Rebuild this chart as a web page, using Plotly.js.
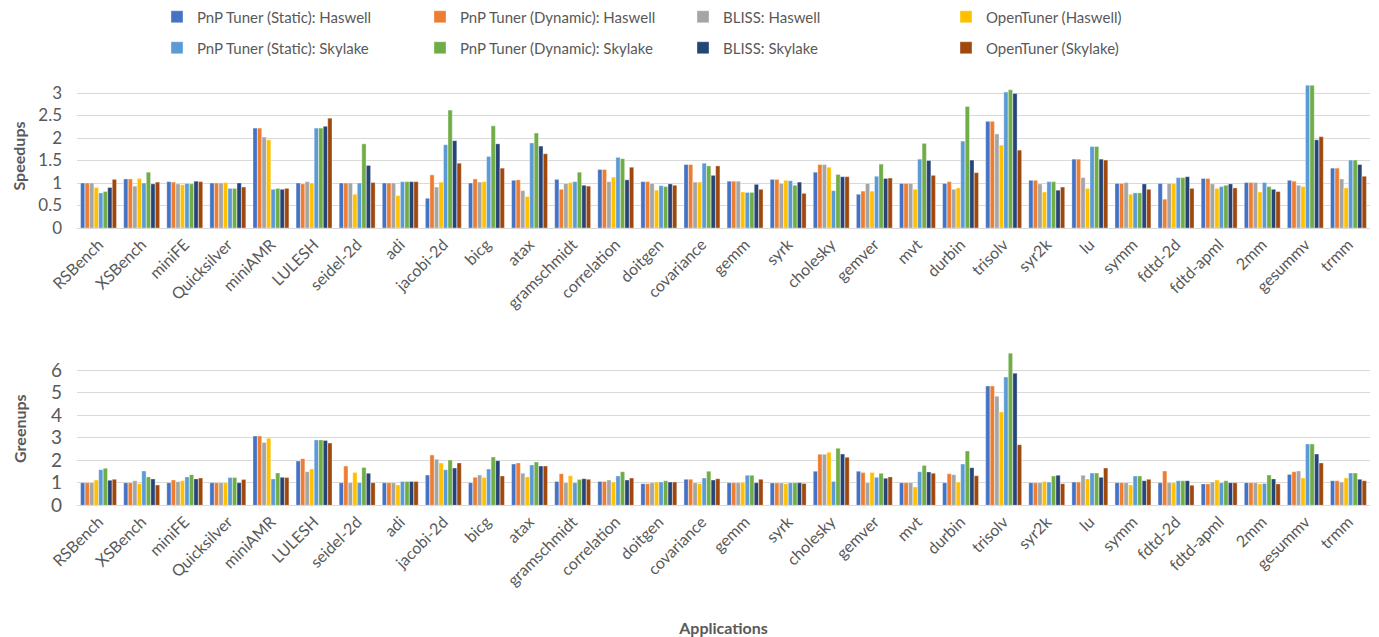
<!DOCTYPE html>
<html>
<head>
<meta charset="utf-8">
<script src="https://cdn.plot.ly/plotly-3.0.1.min.js"></script>
<style>html,body{margin:0;padding:0;background:#fff;}#chart{width:1379px;height:637px;}</style>
</head>
<body>
<div id="chart"></div>
<script>
const categories = ["RSBench","XSBench","miniFE","Quicksilver","miniAMR","LULESH","seidel-2d","adi","jacobi-2d","bicg","atax","gramschmidt","correlation","doitgen","covariance","gemm","syrk","cholesky","gemver","mvt","durbin","trisolv","syr2k","lu","symm","fdtd-2d","fdtd-apml","2mm","gesummv","trmm"];

const seriesNames = ["PnP Tuner (Static): Haswell","PnP Tuner (Dynamic): Haswell","BLISS: Haswell","OpenTuner (Haswell)","PnP Tuner (Static): Skylake","PnP Tuner (Dynamic): Skylake","BLISS: Skylake","OpenTuner (Skylake)"];
const seriesColors = ["#4472C4","#ED7D31","#A5A5A5","#FFC000","#5B9BD5","#70AD47","#264478","#9E480E"];

// Speedups
const speedStaticHaswell  = [1.0,1.09,1.03,1.0,2.22,1.0,1.0,1.0,0.66,1.0,1.06,1.08,1.30,1.03,1.41,1.04,1.08,1.24,0.75,0.99,0.99,2.37,1.06,1.53,0.99,0.99,1.10,1.01,1.06,1.33];
const speedDynamicHaswell = [1.0,1.09,1.02,1.0,2.22,0.98,1.0,1.0,1.18,1.09,1.07,0.86,1.30,1.03,1.41,1.04,1.08,1.41,0.82,0.99,1.03,2.37,1.06,1.53,0.99,0.64,1.10,1.01,1.04,1.33];
const speedBlissHaswell   = [1.0,0.93,0.98,1.0,2.02,1.03,1.0,1.0,0.91,1.02,0.83,0.99,1.03,0.99,1.02,1.04,0.99,1.41,0.99,0.99,0.86,2.09,0.98,1.12,1.01,0.99,0.98,1.01,0.95,1.09];
const speedOpenHaswell    = [0.90,1.10,0.96,1.01,1.96,1.0,0.75,0.72,1.02,1.03,0.70,1.01,1.13,0.84,1.02,0.80,1.06,1.35,0.82,0.86,0.89,1.84,0.80,0.88,0.75,0.99,0.88,0.80,0.92,0.89];
const speedStaticSkylake  = [0.78,1.0,0.99,0.88,0.86,2.22,1.0,1.03,1.85,1.59,1.89,1.03,1.57,0.94,1.44,0.79,1.05,0.83,1.15,1.53,1.93,3.02,1.03,1.81,0.78,1.12,0.92,1.01,3.17,1.51];
const speedDynamicSkylake = [0.81,1.24,0.98,0.88,0.88,2.22,1.87,1.03,2.62,2.27,2.11,1.24,1.54,0.92,1.38,0.79,0.95,1.19,1.42,1.88,2.70,3.07,1.03,1.81,0.78,1.12,0.95,0.92,3.17,1.51];
const speedBlissSkylake   = [0.90,0.98,1.04,1.0,0.86,2.26,1.39,1.03,1.94,1.87,1.82,0.95,1.07,0.98,1.17,0.97,1.02,1.14,1.10,1.50,1.51,2.99,0.84,1.53,0.98,1.14,0.98,0.86,1.96,1.41];
const speedOpenSkylake    = [1.08,1.02,1.03,0.91,0.88,2.44,1.01,1.03,1.44,1.33,1.65,0.93,1.35,0.95,1.38,0.86,0.77,1.14,1.11,1.17,1.23,1.73,0.91,1.51,0.86,0.88,0.89,0.81,2.03,1.15];

// Greenups
const greenStaticHaswell  = [1.0,1.0,1.0,1.0,3.07,1.96,1.0,1.0,1.34,1.0,1.83,1.06,1.06,0.96,1.15,1.0,0.99,1.51,1.51,1.0,1.0,5.29,1.0,1.03,1.0,1.0,0.95,1.0,1.37,1.09];
const greenDynamicHaswell = [1.0,1.0,1.12,1.0,3.07,2.07,1.74,1.0,2.23,1.24,1.88,1.40,1.06,0.96,1.15,1.0,0.99,2.26,1.45,1.0,1.40,5.29,1.0,1.03,1.0,1.52,0.95,1.0,1.49,1.09];
const greenBlissHaswell   = [1.0,1.09,1.05,1.0,2.79,1.49,1.0,1.0,2.04,1.34,1.42,1.0,1.12,1.0,1.0,1.0,0.99,2.26,1.0,1.0,1.36,4.84,1.0,1.33,1.0,1.0,1.03,1.0,1.52,1.03];
const greenOpenHaswell    = [1.12,0.96,1.09,1.0,2.97,1.61,1.46,0.90,1.88,1.23,1.26,1.31,1.03,1.03,0.96,1.02,0.96,2.35,1.46,0.81,1.03,4.14,1.06,1.17,0.90,1.0,1.12,0.95,1.21,1.21];
const greenStaticSkylake  = [1.58,1.52,1.26,1.23,1.17,2.90,1.0,1.06,1.58,1.61,1.79,1.0,1.30,1.03,1.21,1.33,1.0,1.06,1.24,1.49,1.83,5.69,1.03,1.43,1.30,1.09,1.0,0.97,2.72,1.43];
const greenDynamicSkylake = [1.64,1.26,1.36,1.23,1.43,2.90,1.68,1.06,2.01,2.14,1.92,1.14,1.49,1.09,1.51,1.33,1.0,2.53,1.42,1.77,2.41,6.75,1.30,1.43,1.30,1.09,1.09,1.34,2.72,1.43];
const greenBlissSkylake   = [1.11,1.17,1.17,1.0,1.24,2.87,1.42,1.06,1.65,1.98,1.74,1.18,1.12,1.03,1.12,1.0,1.0,2.27,1.20,1.48,1.67,5.86,1.33,1.24,1.09,1.09,1.0,1.17,2.27,1.15];
const greenOpenSkylake    = [1.15,0.90,1.21,1.14,1.23,2.76,1.0,1.06,1.88,1.30,1.74,1.15,1.21,1.03,1.18,1.15,0.97,2.13,1.26,1.42,1.31,2.69,0.96,1.65,1.15,0.89,1.0,0.95,1.88,1.09];

const speedSeries = [speedStaticHaswell,speedDynamicHaswell,speedBlissHaswell,speedOpenHaswell,speedStaticSkylake,speedDynamicSkylake,speedBlissSkylake,speedOpenSkylake];
const greenSeries = [greenStaticHaswell,greenDynamicHaswell,greenBlissHaswell,greenOpenHaswell,greenStaticSkylake,greenDynamicSkylake,greenBlissSkylake,greenOpenSkylake];

const FONT = "Lato, 'Open Sans', sans-serif";
const GREY = "#595959";
const traces = [];
speedSeries.forEach((vals, i) => {
  traces.push({
    type: "bar", x: categories, y: vals, name: seriesNames[i],
    marker: {color: seriesColors[i], line: {color: "rgba(255,255,255,0.6)", width: 0.6}},
    xaxis: "x", yaxis: "y", legend: i < 4 ? "legend" : "legend2"
  });
});
greenSeries.forEach((vals, i) => {
  traces.push({
    type: "bar", x: categories, y: vals, name: seriesNames[i], showlegend: false,
    marker: {color: seriesColors[i], line: {color: "rgba(255,255,255,0.6)", width: 0.6}},
    xaxis: "x2", yaxis: "y2"
  });
});

const H = 637, W = 1379;
const xdom = [77/W, 1370/W];
const xaxisBase = {
  domain: xdom, type: "category", tickangle: -45, showgrid: false, showline: true,
  linecolor: "#d9d9d9", linewidth: 1, ticks: "", automargin: false,
  tickfont: {family: FONT, size: 16, color: GREY}
};
const yaxisBase = {
  showgrid: true, gridcolor: "#d9d9d9", gridwidth: 1, zeroline: false, showline: false,
  ticks: "", automargin: false, ticklabelstandoff: 14
};
const legendBase = {
  orientation: "h", entrywidth: 218, entrywidthmode: "pixels",
  font: {family: FONT, size: 15, color: GREY}, bgcolor: "rgba(0,0,0,0)",
  xanchor: "left", yanchor: "middle", traceorder: "normal", itemclick: false
};

const layout = {
  width: W, height: H, margin: {l: 0, r: 0, t: 0, b: 0},
  paper_bgcolor: "#fff", plot_bgcolor: "#fff",
  barmode: "group", bargap: 0.16, bargroupgap: 0.06,
  showlegend: true,
  legend: Object.assign({}, legendBase, {x: 157/W, y: 1 - 17/H}),
  legend2: Object.assign({}, legendBase, {x: 157/W, y: 1 - 48/H}),
  xaxis: Object.assign({}, xaxisBase, {anchor: "y"}),
  yaxis: Object.assign({}, yaxisBase, {
    domain: [1 - 228/H, 1 - 84/H], range: [0, 3.2], tickvals: [0,0.5,1,1.5,2,2.5,3],
    ticktext: ["0","0.5","1","1.5","2","2.5","3"], anchor: "x",
    tickfont: {family: FONT, size: 17, color: GREY},
    title: {text: "<b>Speedups</b>", font: {family: FONT, size: 16, color: GREY}, standoff: 8}
  }),
  xaxis2: Object.assign({}, xaxisBase, {anchor: "y2",
    title: {text: "<b>Applications</b>", font: {family: FONT, size: 16, color: GREY}, standoff: 35}
  }),
  yaxis2: Object.assign({}, yaxisBase, {
    domain: [1 - 505.3/H, 1 - 352/H], range: [0, 6.8], tickvals: [0,1,2,3,4,5,6], anchor: "x2",
    tickfont: {family: FONT, size: 19, color: GREY},
    title: {text: "<b>Greenups</b>", font: {family: FONT, size: 16, color: GREY}, standoff: 20}
  })
};

Plotly.newPlot("chart", traces, layout, {displayModeBar: false, staticPlot: true});
</script>
</body>
</html>
